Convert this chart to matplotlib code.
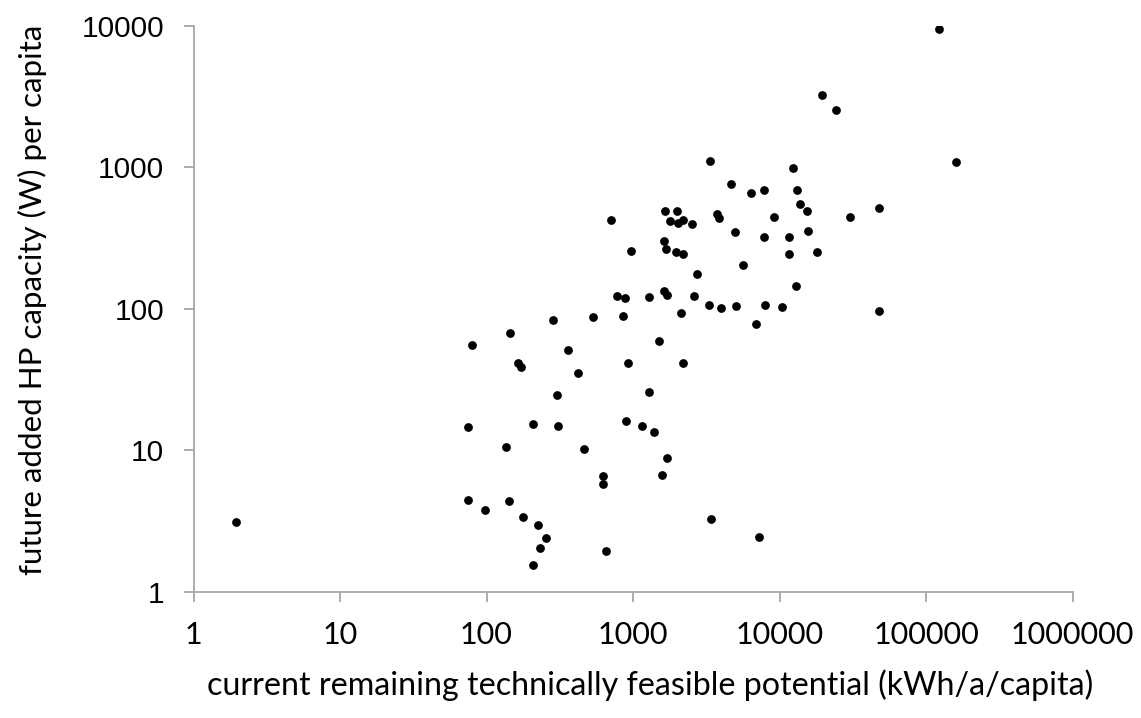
import matplotlib
matplotlib.use('Agg')
import matplotlib.pyplot as plt
from matplotlib.ticker import FixedLocator, NullLocator

# remaining potential (kWh/a/capita) vs. future added HP capacity (W/capita)
potential = [
    1.94, 122000, 19500, 24200, 159500, 12300, 6360, 7870, 13160, 13800,
    15490, 9170, 30420, 47550, 7870, 11560, 15730, 11560, 18030, 5660,
    12970, 8000, 10450, 47550, 6950, 4990, 3370, 4640, 704, 1653,
    1996, 1781, 2019, 2183, 2516, 3727, 3882, 1628, 1688, 1976,
    2183, 964, 2735, 778, 886, 1280, 1628, 1714, 2608, 531,
    859, 2127, 3318, 3970, 5047, 79.6, 145, 284, 358, 1505,
    164, 171, 423, 920, 2183, 303, 1280, 74.8, 208, 308,
    896, 1152, 1398, 136.5, 463, 1714, 627, 627, 1571, 74.8,
    98.1, 143, 178, 224, 255, 232, 208, 651, 3423, 7244,
]
capacity = [
    3.14, 9540, 3260, 2530, 1086, 985, 662, 695, 689, 551,
    494, 448, 448, 519, 324, 324, 353, 244, 254, 203,
    145, 107, 103, 97.1, 78.2, 349, 1109, 759, 427, 489,
    494, 416, 403, 423, 400, 468, 439, 302, 265, 251,
    244, 258, 175, 124, 119.4, 121, 133, 126, 123, 88.1,
    89.1, 94.0, 107, 101.5, 105.4, 55.9, 67.3, 83.5, 51.5, 59.0,
    41.5, 38.9, 35.4, 41.7, 41.7, 24.8, 25.9, 14.6, 15.4, 15.0,
    16.1, 14.8, 13.4, 10.6, 10.3, 8.80, 6.60, 5.82, 6.67, 4.47,
    3.81, 4.37, 3.37, 2.99, 2.42, 2.04, 1.55, 1.96, 3.26, 2.45,
]

x_ticks = [1, 10, 100, 1000, 10000, 100000, 1000000]
y_ticks = [1, 10, 100, 1000, 10000]

W, H = 1141, 718
fig = plt.figure(figsize=(W / 100, H / 100), dpi=100)
ax = fig.add_axes([193.5 / W, 1 - 592 / H, (1072.5 - 193.5) / W, (592 - 25.8) / H])

ax.plot(potential, capacity, 'o', color='black', ms=6.3, mec='none')

ax.set_xscale('log')
ax.set_yscale('log')
ax.set_xlim(1, 1000000)
ax.set_ylim(1, 10000)

ax.xaxis.set_major_locator(FixedLocator(x_ticks))
ax.yaxis.set_major_locator(FixedLocator(y_ticks))
ax.xaxis.set_minor_locator(NullLocator())
ax.yaxis.set_minor_locator(NullLocator())
ax.set_xticklabels([str(v) for v in x_ticks], fontfamily='Lato', fontsize=22)
ax.set_yticklabels([str(v) for v in y_ticks], fontfamily='Liberation Sans', fontsize=21.5)

grey = '#a6a6a6'
for side in ['top', 'right']:
    ax.spines[side].set_visible(False)
for side in ['left', 'bottom']:
    ax.spines[side].set_color(grey)
    ax.spines[side].set_linewidth(1.3)
ax.tick_params(axis='both', direction='out', length=7.2, width=1.3, color=grey,
               labelcolor='black')
ax.tick_params(axis='x', pad=14)
ax.tick_params(axis='y', pad=14)

fig.text(650 / W, 1 - 685 / H, 'current remaining technically feasible potential (kWh/a/capita)',
         ha='center', va='center', fontfamily='Lato', fontsize=23.2)
fig.text(32 / W, 1 - 300 / H, 'future added HP capacity (W) per capita',
         ha='center', va='center', rotation=90, fontfamily='Lato', fontsize=22.5)

fig.savefig('out.png', dpi=100)
